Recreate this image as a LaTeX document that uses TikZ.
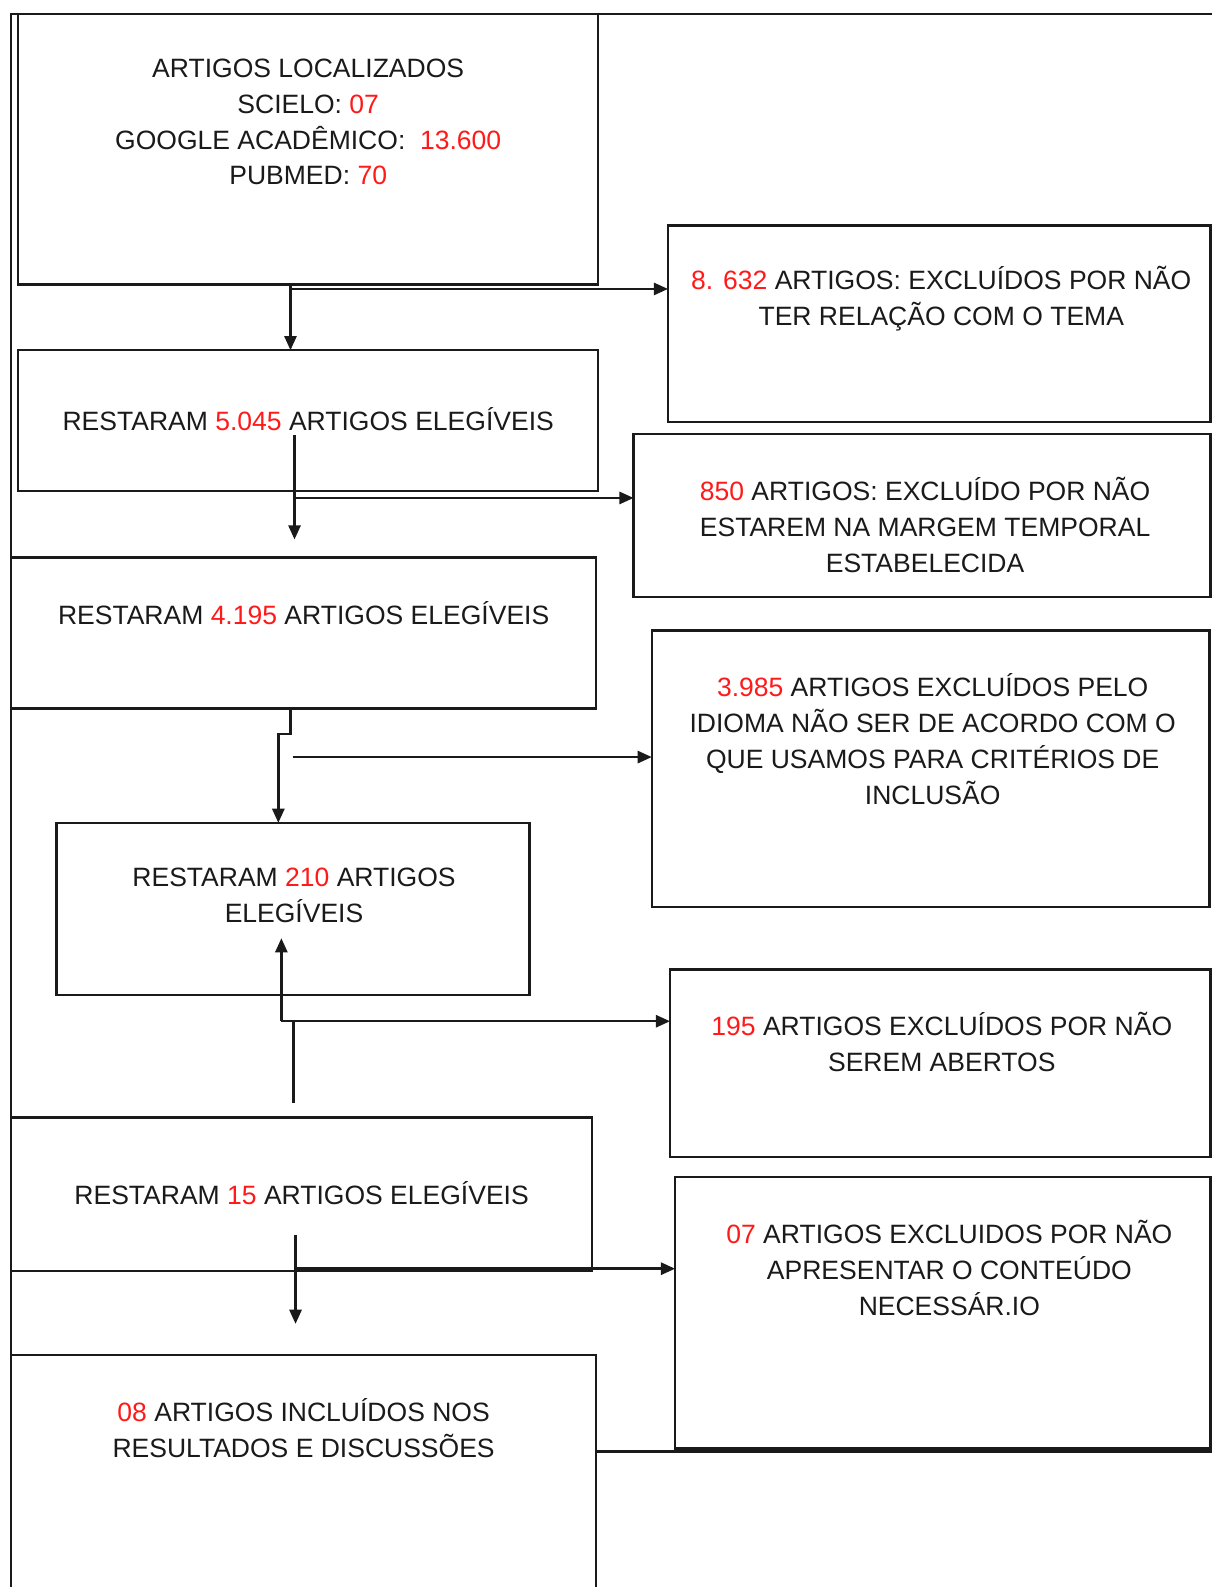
\documentclass[tikz,border=0pt]{standalone}
\usepackage{fontspec}
\setmainfont{Liberation Sans}
\usetikzlibrary{arrows.meta}
\definecolor{numred}{HTML}{FF1A1A}
\definecolor{ink}{HTML}{1A1A1A}
\newcommand{\rn}[1]{\textcolor{numred}{#1}}
\begin{document}
\begin{tikzpicture}[x=1pt,y=-1pt,
  box/.style={draw=ink, line width=2.4pt, rectangle, inner sep=0pt, outer sep=0pt, anchor=north west},
  lbl/.style={text=ink, align=center, inner sep=0pt, font=\fontsize{26.2pt}{35.5pt}\selectfont},
  line/.style={draw=ink, line width=2.4pt},
  arr/.style={line, -{Triangle[length=14pt,width=12pt]}},
]
\useasboundingbox (0,0) rectangle (1197,1568);
\fill[white] (0,0) rectangle (1197,1568);

% outer frame
\coordinate (fbl) at (11,1580);
\coordinate (ftl) at (11,14);
\coordinate (ftr) at (1200,14);
\draw[line] (fbl) -- (ftl) -- (ftr);

% boxes
\node[box, minimum width=573pt, minimum height=267pt] (b1) at (18,14) {};
\node[box, minimum width=536pt, minimum height=194pt] (bA) at (660,223) {};
\node[box, minimum width=573pt, minimum height=139pt] (b2) at (18,346) {};
\node[box, minimum width=570pt, minimum height=161pt] (bB) at (626,429) {};
\node[box, minimum width=578pt, minimum height=149pt] (b3) at (11,551) {};
\node[box, minimum width=551pt, minimum height=273pt] (bC) at (644,623) {};
\node[box, minimum width=467pt, minimum height=170pt] (b4) at (56,813) {};
\node[box, minimum width=534pt, minimum height=185pt] (bD) at (662,958) {};
\node[box, minimum width=574pt, minimum height=152pt] (b5) at (11,1104) {};
\node[box, minimum width=529pt, minimum height=268pt] (bE) at (667,1163) {};
\node[box, minimum width=578pt, minimum height=260pt] (b6) at (11,1339) {};

% texts
\node[lbl] (t1) at (304.5,120.5) {ARTIGOS LOCALIZADOS\\SCIELO: \rn{07}\\GOOGLE ACADÊMICO:\ \ \rn{13.600}\\PUBMED: \rn{70}};
\node[lbl] (tA) at (930,295) {\rn{8. 632} ARTIGOS: EXCLUÍDOS POR NÃO\\TER RELAÇÃO COM O TEMA};
\node[lbl] (t2) at (304.5,414.5) {RESTARAM \rn{5.045} ARTIGOS ELEGÍVEIS};
\node[lbl] (tB) at (914,518.5) {\rn{850} ARTIGOS: EXCLUÍDO POR NÃO\\ESTAREM NA MARGEM TEMPORAL\\ESTABELECIDA};
\node[lbl] (t3) at (300,605.5) {RESTARAM \rn{4.195} ARTIGOS ELEGÍVEIS};
\node[lbl] (tC) at (921.5,730) {\rn{3.985} ARTIGOS EXCLUÍDOS PELO\\IDIOMA NÃO SER DE ACORDO COM O\\QUE USAMOS PARA CRITÉRIOS DE\\INCLUSÃO};
\node[lbl] (t4) at (290.5,884.5) {RESTARAM \rn{210} ARTIGOS\\ELEGÍVEIS};
\node[lbl] (tD) at (930.5,1029.5) {\rn{195} ARTIGOS EXCLUÍDOS POR NÃO\\SEREM ABERTOS};
\node[lbl] (t5) at (298,1178.5) {RESTARAM \rn{15} ARTIGOS ELEGÍVEIS};
\node[lbl] (tE) at (938,1252.5) {\rn{07} ARTIGOS EXCLUIDOS POR NÃO\\APRESENTAR O CONTEÚDO\\NECESSÁR.IO};
\node[lbl] (t6) at (300,1411) {\rn{08} ARTIGOS INCLUÍDOS NOS\\RESULTADOS E DISCUSSÕES};

% connectors
\coordinate (c1) at (287,0);
\draw[arr] (b1.south -| c1) -- (b2.north -| c1);
\coordinate (j1) at (287,285.5);
\draw[arr] (j1) -- (j1 -| bA.west);

\coordinate (s2) at (291,430);
\coordinate (e2) at (291,533);
\draw[arr] (s2) -- (e2);
\coordinate (j2) at (291,492);
\draw[arr] (j2) -- (j2 -| bB.west);

\coordinate (k3a) at (287,725);
\coordinate (k3b) at (275,725);
\draw[arr] (b3.south -| k3a) -- (k3a) -- (k3b) -- (b4.north -| k3b);
\coordinate (j3) at (289,748);
\draw[arr] (j3) -- (j3 -| bC.west);

\coordinate (s4) at (290,1090);
\coordinate (k4) at (290,1009);
\coordinate (m4) at (278,1009);
\coordinate (e4) at (278,927);
\draw[line] (s4) -- (k4) -- (m4);
\draw[arr] (m4) -- (e4);
\draw[arr] (m4) -- (m4 -| bD.west);

\coordinate (s5) at (292,1220);
\coordinate (e5) at (292,1308);
\draw[arr] (s5) -- (e5);
\coordinate (j5) at (291,1253.5);
\draw[arr] (j5) -- (j5 -| bE.west);

\coordinate (j6) at (589,1434);
\coordinate (r6) at (1200,1434);
\draw[line] (b6.east |- j6) -- (r6);
\end{tikzpicture}
\end{document}
